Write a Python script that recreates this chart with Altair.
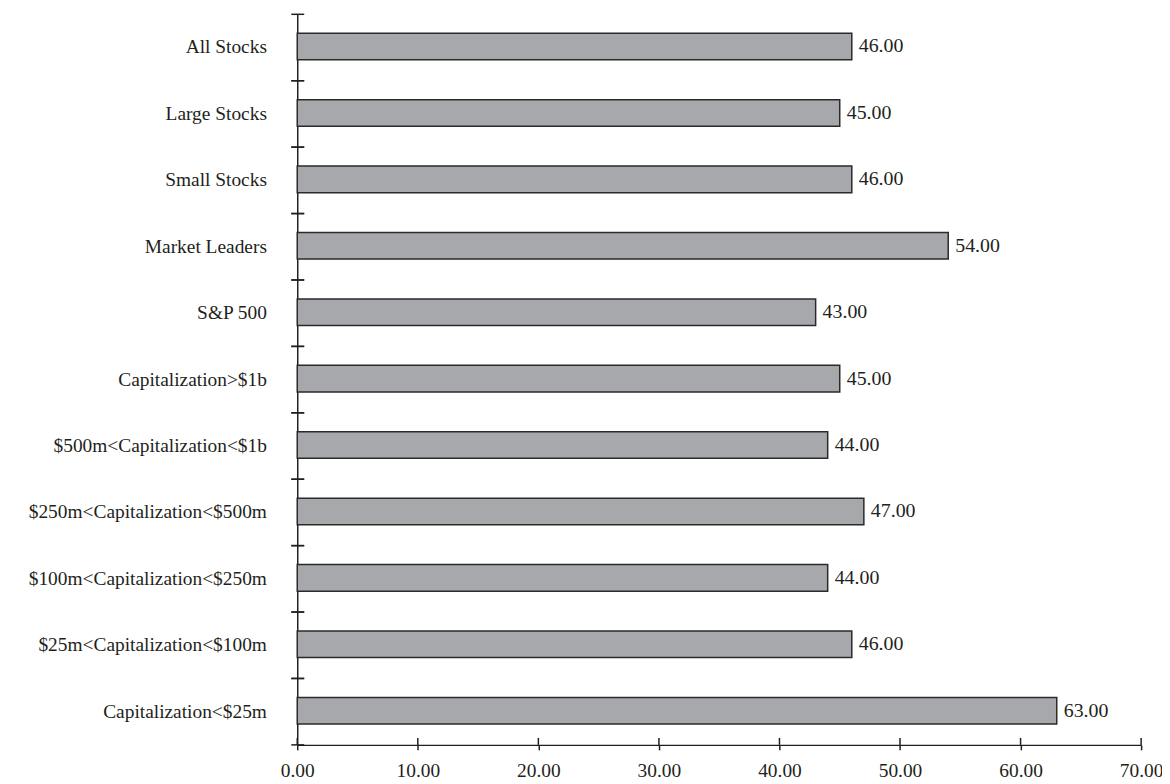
import altair as alt
import pandas as pd

categories = [
    "All Stocks",
    "Large Stocks",
    "Small Stocks",
    "Market Leaders",
    "S&P 500",
    "Capitalization>$1b",
    "$500m<Capitalization<$1b",
    "$250m<Capitalization<$500m",
    "$100m<Capitalization<$250m",
    "$25m<Capitalization<$100m",
    "Capitalization<$25m",
]
values = [46.00, 45.00, 46.00, 54.00, 43.00, 45.00, 44.00, 47.00, 44.00, 46.00, 63.00]
x_ticks = [0, 10, 20, 30, 40, 50, 60, 70]

W, H = 849, 735
FONT = "Liberation Serif"
INK = "#231f20"

df = pd.DataFrame({"cat": categories, "val": values})
tick_df = pd.DataFrame({"t": x_ticks})

xscale = alt.Scale(domain=[0, 70], nice=False, zero=True)
yscale = alt.Scale(domain=categories, paddingInner=0, paddingOuter=0)

base = alt.Chart(df)

bars = base.mark_bar(
    height={"band": 0.4}, yOffset=-1, color="#a7a8ac", stroke="#2a2a2a", strokeWidth=1.5
).encode(
    x=alt.X(
        "val:Q",
        scale=xscale,
        axis=alt.Axis(
            values=x_ticks,
            format=".2f",
            title=None,
            grid=False,
            domainColor=INK,
            domainWidth=1.5,
            tickColor=INK,
            tickWidth=1.5,
            tickSize=5,
            labelPadding=12,
            labelFlush=False,
            labelFont=FONT,
            labelFontSize=19.5,
            labelColor=INK,
        ),
    ),
    y=alt.Y(
        "cat:N",
        sort=categories,
        scale=yscale,
        axis=alt.Axis(
            title=None,
            ticks=False,
            domainColor=INK,
            domainWidth=1.5,
            labelPadding=31,
            labelFont=FONT,
            labelFontSize=19.5,
            labelColor=INK,
            labelLimit=400,
        ),
    ),
)

texts = base.mark_text(
    align="left", baseline="middle", dx=7, dy=-1, font=FONT, fontSize=20, color=INK
).encode(
    x=alt.X("val:Q", scale=xscale),
    y=alt.Y("cat:N", sort=categories, scale=yscale),
    text=alt.Text("val:Q", format=".2f"),
)

ytick_start = base.mark_rule(color=INK, strokeWidth=1.5).encode(
    y=alt.Y("cat:N", sort=categories, scale=yscale, bandPosition=0),
    x=alt.value(-6),
    x2=alt.value(7),
)
ytick_end = base.mark_rule(color=INK, strokeWidth=1.5).encode(
    y=alt.Y("cat:N", sort=categories, scale=yscale, bandPosition=1),
    x=alt.value(-6),
    x2=alt.value(7),
)
xtick_in = alt.Chart(tick_df).mark_rule(color=INK, strokeWidth=1.5).encode(
    x=alt.X("t:Q", scale=xscale),
    y=alt.value(H - 7),
    y2=alt.value(H),
)

chart = (
    alt.layer(bars, texts, ytick_start, ytick_end, xtick_in)
    .properties(
        width=W,
        height=H,
        autosize=alt.AutoSizeParams(type="none"),
        padding={"left": 291, "top": 4, "right": 21, "bottom": 36},
        background="white",
    )
    .configure_view(stroke=None, strokeWidth=0)
)

chart.save("out.html", embed_options={"renderer": "svg", "actions": False})
